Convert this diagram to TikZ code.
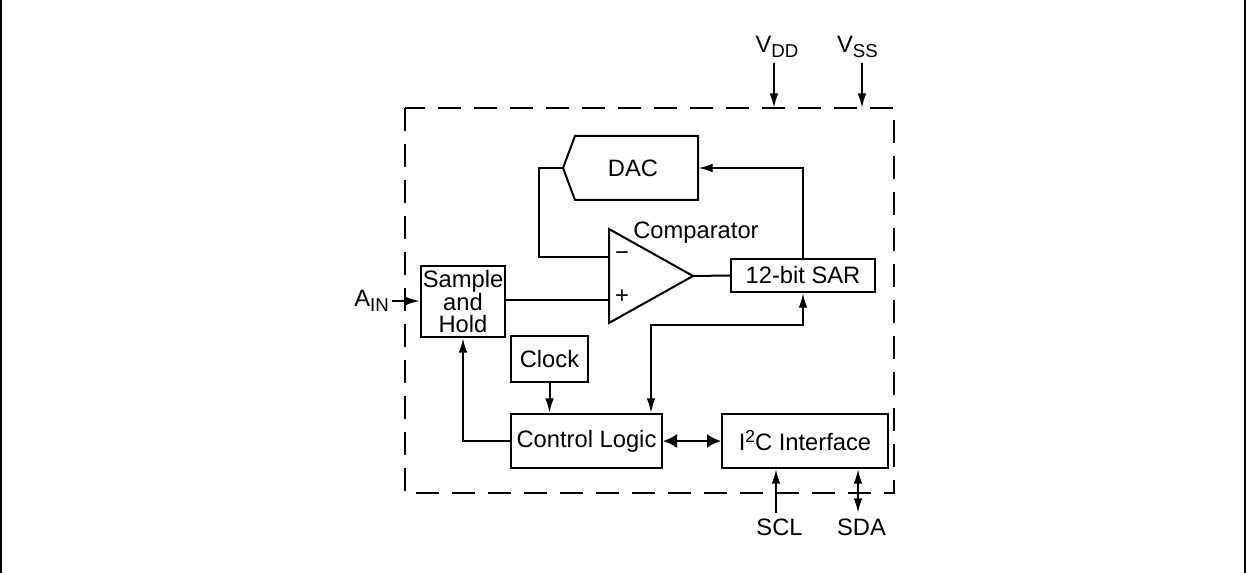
\documentclass[tikz,border=0pt]{standalone}
\usepackage{fontspec}
\setmainfont{Liberation Sans}
\usetikzlibrary{arrows.meta}
\newcommand{\mysub}[1]{\raisebox{-3.75pt}{\fontsize{14}{14}\selectfont #1}}
\newcommand{\mysup}[1]{\raisebox{6pt}{\fontsize{13}{13}\selectfont #1}}
\begin{document}
\begin{tikzpicture}[x=0.75pt,y=-0.75pt,
  every node/.style={font=\fontsize{17.8}{16.5}\selectfont, inner sep=0pt},
  ln/.style={line width=1.5pt},
  blk/.style={draw, line width=1.5pt, align=center},
  tip/.style={-{Latex[length=11pt,width=6.5pt]}},
  dtip/.style={{Latex[length=11pt,width=6.5pt]}-{Latex[length=11pt,width=6.5pt]}},
  wtip/.style={{Latex[length=10.5pt,width=10.5pt]}-{Latex[length=10.5pt,width=10.5pt]}},
  dashbox/.style={line width=1.5pt, dash pattern=on 17pt off 10pt}]
\useasboundingbox (0,0) rectangle (1247,573);
% page borders
\draw[line width=1.5pt] (1,0) -- (1,573);
\draw[line width=1.5pt] (1245,0) -- (1245,573);
% dashed chip outline
\draw[dashbox] (405,108) rectangle (894,493);
\coordinate (topL) at (405,108);
\coordinate (botL) at (405,493);
% blocks
\node[blk, minimum width=63pt, minimum height=53.25pt] (sh) at (463,301.5) {Sample\\and\\Hold};
\node[blk, minimum width=57.75pt, minimum height=34.5pt] (clk) at (549.5,359) {Clock};
\node[blk, minimum width=113.25pt, minimum height=40.5pt] (cl) at (586.5,441) {Control Logic};
\node[blk, minimum width=124.5pt, minimum height=40.5pt] (i2c) at (805,441) {I\mysup{2}C Interface};
\node[blk, minimum width=108pt, minimum height=24.75pt] (sar) at (803,275.5) {12-bit SAR};
% DAC
\coordinate (dacN) at (563,168);
\coordinate (dacE) at (698,168);
\draw[ln] (575,136) -- (698,136) -- (698,200) -- (575,200) -- (dacN) -- cycle;
\node (dac) at (633,168) {DAC};
% comparator
\coordinate (cmpM) at (609,257);
\coordinate (cmpP) at (609,300);
\coordinate (cmpO) at (693,276);
\draw[ln, line join=miter] (609,229) -- (cmpO) -- (609,323) -- cycle;
\node (minus) at (622,256) {−};
\node (plus) at (622,297) {+};
\node[anchor=base] (cmpl) at (696,239) {Comparator};
% labels
\node[anchor=base] (vdd) at (777,53) {V\mysub{DD}};
\node[anchor=base] (vss) at (857.5,53) {V\mysub{SS}};
\node[anchor=base] (ain) at (371.5,307) {A\mysub{IN}};
\node[anchor=base] (scl) at (779.5,536) {SCL};
\node[anchor=base] (sda) at (861.5,536) {SDA};
% junction coordinates
\coordinate (vddT) at (774,63);
\coordinate (vssT) at (862,63);
\coordinate (fb) at (539,168);
\coordinate (sarT) at (803,168);
\coordinate (j1) at (803,325);
\coordinate (j2) at (651,325);
\coordinate (ainE) at (392,301);
\coordinate (sclB) at (776,513);
\coordinate (sdaB) at (858,513);
% connectors
\draw[ln, tip] (vddT) -- (vddT |- topL);
\draw[ln, tip] (vssT) -- (vssT |- topL);
\draw[ln] (dacN) -- (fb) |- (cmpM);
\draw[ln, tip] (sar.north) -- (sarT) -- (dacE);
\draw[ln] (cmpO) -- (sar.west);
\draw[ln] (sh.east |- cmpP) -- (cmpP);
\draw[ln, tip] (ainE) -- (sh.west |- ainE);
\draw[ln, tip] (clk.south) -- (cl.north -| clk.south);
\draw[ln, tip] (cl.west) -| (sh.south);
\draw[ln, dtip] (sar.south) -- (j1) -- (j2) -- (j2 |- cl.north);
\draw[ln, wtip] (cl.east) -- (i2c.west);
\draw[ln, tip] (sclB) -- (sclB |- i2c.south);
\draw[ln, dtip] (sdaB) -- (sdaB |- i2c.south);
\end{tikzpicture}
\end{document}
